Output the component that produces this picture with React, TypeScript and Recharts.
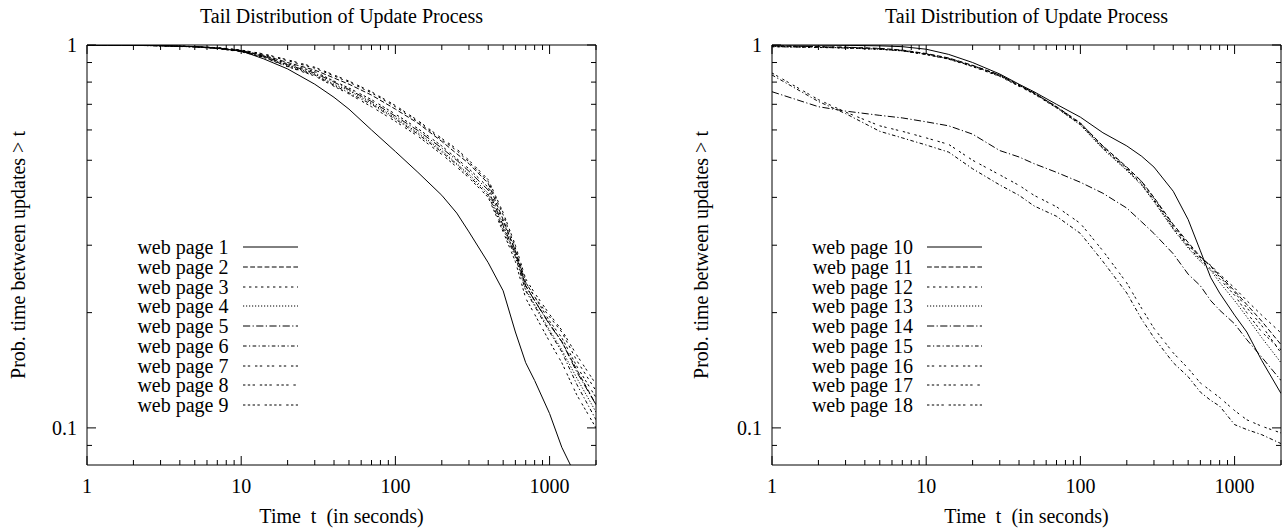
import React from 'react';
import { LineChart, Line, XAxis, YAxis } from 'recharts';

// sample times (seconds) where the curves were read
const times = [1, 2, 3, 5, 7, 10, 14, 20, 30, 40, 50, 70, 100, 140, 200, 250, 300, 400, 500, 600, 700, 800, 1000, 1200, 1500, 2000];

// left panel: web pages 1-9
const page1 = [1, 0.999, 0.997, 0.99, 0.98, 0.965, 0.92, 0.866, 0.79, 0.73, 0.68, 0.6, 0.527, 0.465, 0.405, 0.364, 0.325, 0.27, 0.228, 0.178, 0.148, 0.133, 0.109, 0.089, 0.074, null];
const page2 = [1, 0.998, 0.996, 0.99, 0.983, 0.967, 0.94, 0.9, 0.86, 0.82, 0.79, 0.74, 0.68, 0.625, 0.56, 0.52, 0.49, 0.435, 0.35, 0.29, 0.235, 0.215, 0.187, 0.168, 0.142, 0.115];
const page3 = [1, 0.998, 0.996, 0.99, 0.984, 0.97, 0.945, 0.91, 0.87, 0.83, 0.8, 0.75, 0.69, 0.63, 0.565, 0.53, 0.495, 0.44, 0.36, 0.295, 0.24, 0.22, 0.195, 0.178, 0.15, 0.125];
const page4 = [1, 0.998, 0.995, 0.989, 0.981, 0.963, 0.932, 0.885, 0.84, 0.79, 0.76, 0.705, 0.645, 0.59, 0.53, 0.49, 0.46, 0.41, 0.335, 0.283, 0.23, 0.21, 0.18, 0.16, 0.135, 0.11];
const page5 = [1, 0.998, 0.996, 0.99, 0.982, 0.965, 0.935, 0.888, 0.845, 0.8, 0.765, 0.712, 0.652, 0.598, 0.538, 0.5, 0.468, 0.418, 0.338, 0.285, 0.235, 0.215, 0.186, 0.168, 0.14, 0.115];
const page6 = [1, 0.998, 0.995, 0.989, 0.98, 0.962, 0.93, 0.88, 0.835, 0.785, 0.75, 0.7, 0.64, 0.585, 0.525, 0.487, 0.455, 0.405, 0.33, 0.28, 0.228, 0.208, 0.178, 0.158, 0.13, 0.105];
const page7 = [1, 0.998, 0.996, 0.991, 0.984, 0.97, 0.948, 0.915, 0.875, 0.835, 0.805, 0.755, 0.695, 0.635, 0.57, 0.535, 0.5, 0.445, 0.365, 0.3, 0.245, 0.225, 0.198, 0.18, 0.155, 0.13];
const page8 = [1, 0.998, 0.995, 0.988, 0.979, 0.96, 0.928, 0.878, 0.83, 0.78, 0.745, 0.69, 0.632, 0.578, 0.518, 0.48, 0.45, 0.4, 0.325, 0.272, 0.218, 0.198, 0.168, 0.148, 0.122, 0.1];
const page9 = [1, 0.998, 0.996, 0.99, 0.982, 0.966, 0.937, 0.893, 0.852, 0.805, 0.772, 0.72, 0.66, 0.605, 0.545, 0.505, 0.475, 0.425, 0.345, 0.29, 0.24, 0.22, 0.19, 0.172, 0.145, 0.12];

// right panel: web pages 10-18
const page10 = [1, 0.999, 0.998, 0.995, 0.99, 0.975, 0.945, 0.9, 0.84, 0.79, 0.755, 0.7, 0.648, 0.59, 0.545, 0.512, 0.48, 0.415, 0.35, 0.29, 0.247, 0.225, 0.197, 0.178, 0.15, 0.123];
const page11 = [0.995, 0.99, 0.987, 0.98, 0.97, 0.95, 0.925, 0.885, 0.835, 0.785, 0.75, 0.69, 0.625, 0.545, 0.48, 0.44, 0.4, 0.34, 0.305, 0.28, 0.265, 0.25, 0.228, 0.21, 0.19, 0.165];
const page12 = [0.99, 0.985, 0.982, 0.975, 0.965, 0.945, 0.92, 0.88, 0.83, 0.783, 0.748, 0.688, 0.622, 0.54, 0.475, 0.435, 0.395, 0.335, 0.3, 0.278, 0.266, 0.252, 0.232, 0.215, 0.197, 0.177];
const page13 = [0.992, 0.987, 0.983, 0.975, 0.966, 0.946, 0.92, 0.882, 0.832, 0.785, 0.748, 0.686, 0.618, 0.535, 0.47, 0.43, 0.39, 0.33, 0.295, 0.272, 0.258, 0.24, 0.215, 0.195, 0.172, 0.148];
const page14 = [0.755, 0.69, 0.672, 0.655, 0.645, 0.63, 0.615, 0.585, 0.53, 0.51, 0.49, 0.465, 0.438, 0.41, 0.375, 0.345, 0.322, 0.285, 0.252, 0.235, 0.215, 0.203, 0.187, 0.17, 0.153, 0.133];
const page15 = [0.835, 0.712, 0.662, 0.595, 0.572, 0.548, 0.525, 0.475, 0.431, 0.405, 0.38, 0.357, 0.322, 0.272, 0.225, 0.192, 0.172, 0.148, 0.136, 0.124, 0.118, 0.114, 0.102, 0.099, 0.096, 0.091];
const page16 = [0.845, 0.72, 0.668, 0.615, 0.595, 0.572, 0.55, 0.5, 0.458, 0.43, 0.405, 0.378, 0.342, 0.29, 0.239, 0.205, 0.182, 0.157, 0.143, 0.131, 0.125, 0.12, 0.111, 0.105, 0.101, 0.097];
const page17 = [0.995, 0.99, 0.986, 0.978, 0.968, 0.948, 0.922, 0.884, 0.834, 0.787, 0.75, 0.69, 0.626, 0.544, 0.478, 0.44, 0.398, 0.338, 0.302, 0.279, 0.264, 0.248, 0.226, 0.206, 0.185, 0.157];
const page18 = [0.99, 0.986, 0.982, 0.975, 0.966, 0.944, 0.918, 0.878, 0.828, 0.78, 0.745, 0.685, 0.62, 0.538, 0.472, 0.432, 0.392, 0.332, 0.297, 0.275, 0.26, 0.245, 0.222, 0.2, 0.178, 0.16];

const xTicks = [1, 2, 3, 4, 5, 6, 7, 8, 9, 10, 20, 30, 40, 50, 60, 70, 80, 90, 100, 200, 300, 400, 500, 600, 700, 800, 900, 1000, 2000];
const yTicks = [0.09, 0.1, 0.2, 0.3, 0.4, 0.5, 0.6, 0.7, 0.8, 0.9, 1];
const xMajor = [1, 10, 100, 1000];
const yMajor = [0.1, 1];

const TITLE = 'Tail Distribution of Update Process';
const XLABEL = 'Time  t  (in seconds)';
const YLABEL = 'Prob. time between updates > t';

// gnuplot postscript line types
const DASHES = [undefined, '4.8 2.4', '2.4 3.6', '1.2 1.8', '7.2 2.4 1.2 2.4', '3.6 2.4 1.2 2.4', '2.4 2.4 2.4 4.8', '2.4 2.4 2.4 2.4 2.4 4.8', '2.4 2.4 2.4 2.4 2.4 2.4 2.4 4.8'];

const FONT = '"Liberation Serif", "Times New Roman", serif';
const FS = 20;

type Series = { name: string; values: (number | null)[] };

const leftSeries: Series[] = [
  { name: 'web page 1', values: page1 },
  { name: 'web page 2', values: page2 },
  { name: 'web page 3', values: page3 },
  { name: 'web page 4', values: page4 },
  { name: 'web page 5', values: page5 },
  { name: 'web page 6', values: page6 },
  { name: 'web page 7', values: page7 },
  { name: 'web page 8', values: page8 },
  { name: 'web page 9', values: page9 },
];
const rightSeries: Series[] = [
  { name: 'web page 10', values: page10 },
  { name: 'web page 11', values: page11 },
  { name: 'web page 12', values: page12 },
  { name: 'web page 13', values: page13 },
  { name: 'web page 14', values: page14 },
  { name: 'web page 15', values: page15 },
  { name: 'web page 16', values: page16 },
  { name: 'web page 17', values: page17 },
  { name: 'web page 18', values: page18 },
];

const XTickBottom = (p: any) => {
  const major = xMajor.includes(p.payload.value);
  return (
    <g>
      <line x1={p.x} x2={p.x} y1={p.y} y2={p.y - (major ? 9 : 5)} stroke="#000" />
      {major && (
        <text x={p.x} y={p.y + 28} textAnchor="middle" fontFamily={FONT} fontSize={FS} fill="#000">{p.payload.value}</text>
      )}
    </g>
  );
};
const XTickTop = (p: any) => {
  const major = xMajor.includes(p.payload.value);
  return <line x1={p.x} x2={p.x} y1={p.y} y2={p.y + (major ? 9 : 5)} stroke="#000" />;
};
const YTickLeft = (p: any) => {
  const major = yMajor.includes(p.payload.value);
  return (
    <g>
      <line x1={p.x} x2={p.x + (major ? 9 : 5)} y1={p.y} y2={p.y} stroke="#000" />
      {major && (
        <text x={p.x - 10} y={p.y + 7} textAnchor="end" fontFamily={FONT} fontSize={FS} fill="#000">{p.payload.value}</text>
      )}
    </g>
  );
};
const YTickRight = (p: any) => {
  const major = yMajor.includes(p.payload.value);
  return <line x1={p.x} x2={p.x - (major ? 9 : 5)} y1={p.y} y2={p.y} stroke="#000" />;
};

function Panel({ left, width, plotL, plotR, series, ylabelX, textRight }: {
  left: number; width: number; plotL: number; plotR: number; series: Series[]; ylabelX: number; textRight: number;
}) {
  const rows = times.map((t, i) => {
    const r: Record<string, number | null> = { t };
    series.forEach((s, k) => { r['s' + k] = s.values[i]; });
    return r;
  });
  const cx = (plotL + plotR) / 2;
  const txt: React.CSSProperties = { position: 'absolute', fontFamily: FONT, fontSize: FS, lineHeight: '20px', whiteSpace: 'pre', color: '#000' };
  const axisProps = { allowDataOverflow: true, tickSize: 0, tickMargin: 0, tickLine: false, interval: 0 as const, axisLine: { stroke: '#000' } };
  return (
    <div style={{ position: 'absolute', left, top: 0, width, height: 529 }}>
      <LineChart width={width} height={529} data={rows} margin={{ top: 44, bottom: 63, left: plotL - 1, right: width - plotR - 1 }}>
        <XAxis dataKey="t" type="number" scale="log" domain={[1, 2000]} ticks={xTicks} height={1} {...axisProps} tick={<XTickBottom />} />
        <XAxis xAxisId="top" orientation="top" dataKey="t" type="number" scale="log" domain={[1, 2000]} ticks={xTicks} height={1} {...axisProps} tick={<XTickTop />} />
        <YAxis type="number" scale="log" domain={[0.08, 1]} ticks={yTicks} width={1} {...axisProps} tick={<YTickLeft />} />
        <YAxis yAxisId="right" orientation="right" type="number" scale="log" domain={[0.08, 1]} ticks={yTicks} width={1} {...axisProps} tick={<YTickRight />} />
        {series.map((s, k) => (
          <Line key={s.name} dataKey={'s' + k} name={s.name} type="linear" stroke="#000" strokeWidth={1}
            strokeDasharray={DASHES[k]} dot={false} activeDot={false} isAnimationActive={false} />
        ))}
      </LineChart>
      <div style={{ ...txt, left: cx, top: 6, transform: 'translateX(-50%)' }}>{TITLE}</div>
      <div style={{ ...txt, left: cx, top: 506, transform: 'translateX(-50%)' }}>{XLABEL}</div>
      <div style={{ ...txt, left: ylabelX, top: 255, transform: 'translate(-50%, -50%) rotate(-90deg)' }}>{YLABEL}</div>
      {series.map((s, k) => {
        const cy = 247 + k * 19.75;
        return (
          <React.Fragment key={s.name}>
            <div style={{ ...txt, left: textRight, top: cy - 10, transform: 'translateX(-100%)' }}>{s.name}</div>
            <svg style={{ position: 'absolute', left: textRight + 14, top: cy - 2 }} width={56} height={4}>
              <line x1={0} x2={55} y1={2} y2={2} stroke="#000" strokeDasharray={DASHES[k]} />
            </svg>
          </React.Fragment>
        );
      })}
    </div>
  );
}

export default function App() {
  return (
    <div style={{ position: 'absolute', left: 0, top: 0, width: 1286, height: 529, background: '#fff' }}>
      <Panel left={0} width={640} plotL={87} plotR={596} series={leftSeries} ylabelX={18} textRight={228.5} />
      <Panel left={640} width={646} plotL={132} plotR={641} series={rightSeries} ylabelX={61} textRight={273} />
    </div>
  );
}
